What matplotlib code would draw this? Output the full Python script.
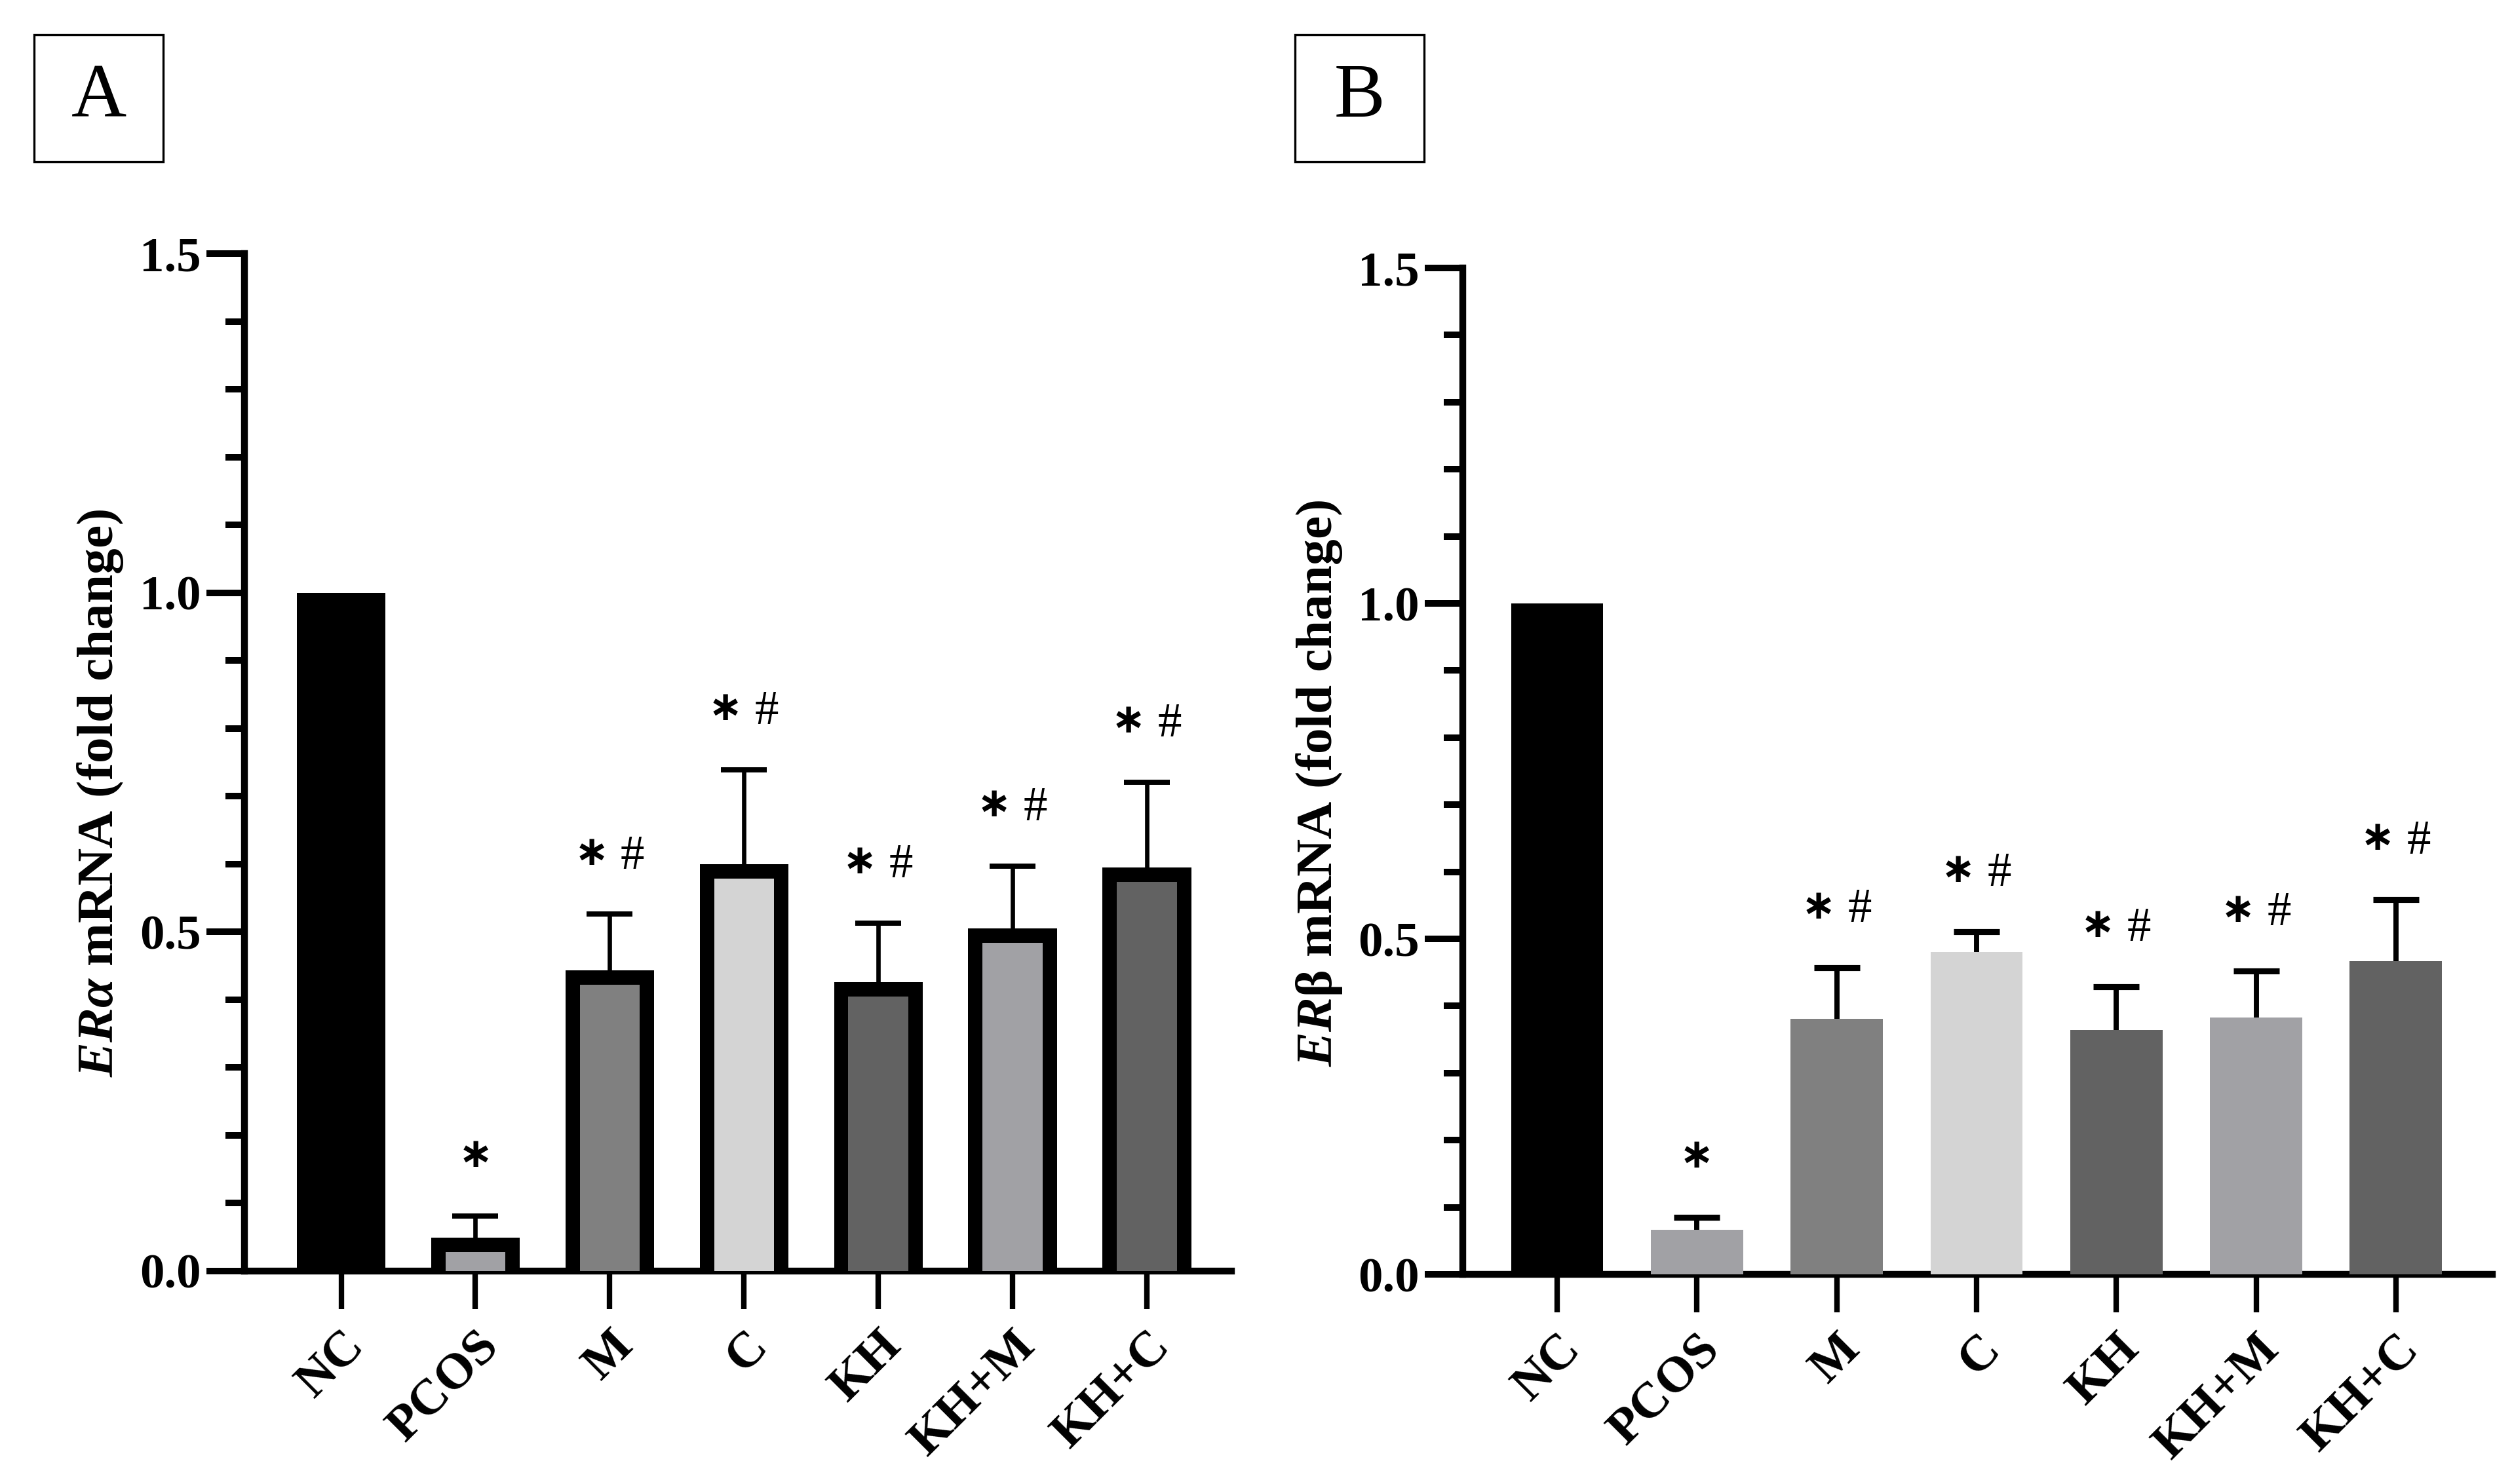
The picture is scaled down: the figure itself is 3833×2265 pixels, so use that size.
import numpy as np
import matplotlib
matplotlib.use('Agg')
import matplotlib.pyplot as plt
from matplotlib.patches import Rectangle
from matplotlib.ticker import MultipleLocator, FormatStrFormatter

# ---------------- data ----------------
groups = ['NC', 'PCOS', 'M', 'C', 'KH', 'KH+M', 'KH+C']
bar_colors = ['#000000', '#a1a1a5', '#808080', '#d4d4d4', '#626262', '#a1a1a5', '#626262']

era_mean = [1.00, 0.049, 0.443, 0.600, 0.426, 0.505, 0.595]
era_err = [0.0, 0.032, 0.083, 0.139, 0.087, 0.092, 0.126]

erb_mean = [1.00, 0.066, 0.381, 0.480, 0.364, 0.383, 0.467]
erb_err = [0.0, 0.019, 0.076, 0.031, 0.065, 0.069, 0.092]

# significance marks: * vs NC, # vs PCOS
sig_star = [False, True, True, True, True, True, True]
sig_hash = [False, False, True, True, True, True, True]

# ---------------- style ----------------
plt.rcParams['font.family'] = ['Liberation Serif', 'DejaVu Serif']
plt.rcParams['font.weight'] = 'bold'
plt.rcParams['mathtext.fontset'] = 'custom'
plt.rcParams['mathtext.it'] = 'Liberation Serif:italic:bold'
plt.rcParams['mathtext.rm'] = 'Liberation Serif:bold'
plt.rcParams['mathtext.bf'] = 'Liberation Serif:bold'

W, H, DPI = 3833, 2265, 300
fig = plt.figure(figsize=(W / DPI, H / DPI), dpi=DPI)


def px2fig(x0, y0, x1, y1):
    return [x0 / W, 1 - y1 / H, (x1 - x0) / W, (y1 - y0) / H]


def style_axis(ax, xlim):
    ax.set_xlim(*xlim)
    ax.set_ylim(0, 1.5)
    for s in ('top', 'right'):
        ax.spines[s].set_visible(False)
    for s in ('left', 'bottom'):
        ax.spines[s].set_linewidth(2.5)
        ax.spines[s].set_capstyle('projecting')
    ax.yaxis.set_major_locator(MultipleLocator(0.5))
    ax.yaxis.set_minor_locator(MultipleLocator(0.1))
    ax.yaxis.set_major_formatter(FormatStrFormatter('%.1f'))
    ax.tick_params(axis='y', which='major', length=14, width=2.4, pad=2,
                   labelsize=18, direction='out')
    ax.tick_params(axis='y', which='minor', length=7, width=2.4, direction='out')
    ax.tick_params(axis='x', which='major', length=14, width=2.0, pad=5,
                   labelsize=18.5, direction='out')
    x = np.arange(len(groups))
    ax.set_xticks(x)
    ax.set_xticklabels(groups, rotation=45, ha='right', va='top',
                       rotation_mode='anchor', fontweight='bold')
    for lab in ax.get_yticklabels():
        lab.set_fontweight('bold')


def draw_panel(ax, means, errs, bordered, width, stem_lw, cap_lw):
    x = np.arange(len(groups))
    means = np.asarray(means)
    errs = np.asarray(errs)
    if bordered:
        # border thickness in data units (~22 px)
        bw = 0.107
        bt = 0.021
        ax.bar(x, means, width, color='black', zorder=3, linewidth=0)
        ax.bar(x, np.clip(means - bt, 0, None), width - 2 * bw,
               color=bar_colors, zorder=4, linewidth=0)
    else:
        ax.bar(x, means, width, color=bar_colors, zorder=3, linewidth=0)
    m = errs > 0
    ax.vlines(x[m], means[m], means[m] + errs[m], color='black',
              linewidth=stem_lw, zorder=2)
    ax.plot(x[m], means[m] + errs[m], linestyle='none', marker='_',
            markersize=16.8, markeredgewidth=cap_lw, color='black',
            zorder=2)
    star_kw = dict(textcoords='offset points', ha='center', va='center',
                   fontsize=15, fontweight='bold', family='DejaVu Sans')
    hash_kw = dict(textcoords='offset points', ha='center', va='center',
                   fontsize=17.5, fontweight='normal', family='Liberation Serif')
    for xi, top, st, hs in zip(x, means + errs, sig_star, sig_hash):
        if st and hs:
            ax.annotate('\u2217', (xi, top), xytext=(-6.7, 22.2), **star_kw)
            ax.annotate('#', (xi, top), xytext=(8.4, 21), **hash_kw)
        elif st:
            ax.annotate('\u2217', (xi, top), xytext=(0, 22.2), **star_kw)


# ---------------- panel A ----------------
axA = fig.add_axes(px2fig(373, 387, 1879, 1940))
draw_panel(axA, era_mean, era_err, True, 0.66, 1.6, 1.9)
style_axis(axA, (-0.72, 6.63))
axA.set_ylabel(r'$ERα$ mRNA (fold change)', fontsize=19, fontweight='bold')
axA.yaxis.set_label_coords(-0.121, 0.47)

# ---------------- panel B ----------------
axB = fig.add_axes(px2fig(2232, 409, 3803, 1945))
draw_panel(axB, erb_mean, erb_err, False, 0.66, 1.9, 2.2)
style_axis(axB, (-0.675, 6.69))
axB.set_ylabel(r'$ER$β mRNA (fold change)', fontsize=19, fontweight='bold')
axB.yaxis.set_label_coords(-0.115, 0.488)

# ---------------- panel letters ----------------
for letter, x0 in (('A', 52), ('B', 1976)):
    l, b, w, h = px2fig(x0, 53, x0 + 197, 247)
    fig.patches.append(Rectangle((l, b), w, h, transform=fig.transFigure,
                                 fill=False, edgecolor='black', linewidth=0.8))
    fig.text(l + w / 2, b + h / 2, letter, ha='center', va='center',
             fontsize=28, fontweight='normal')

fig.savefig('out.png', dpi=DPI)
